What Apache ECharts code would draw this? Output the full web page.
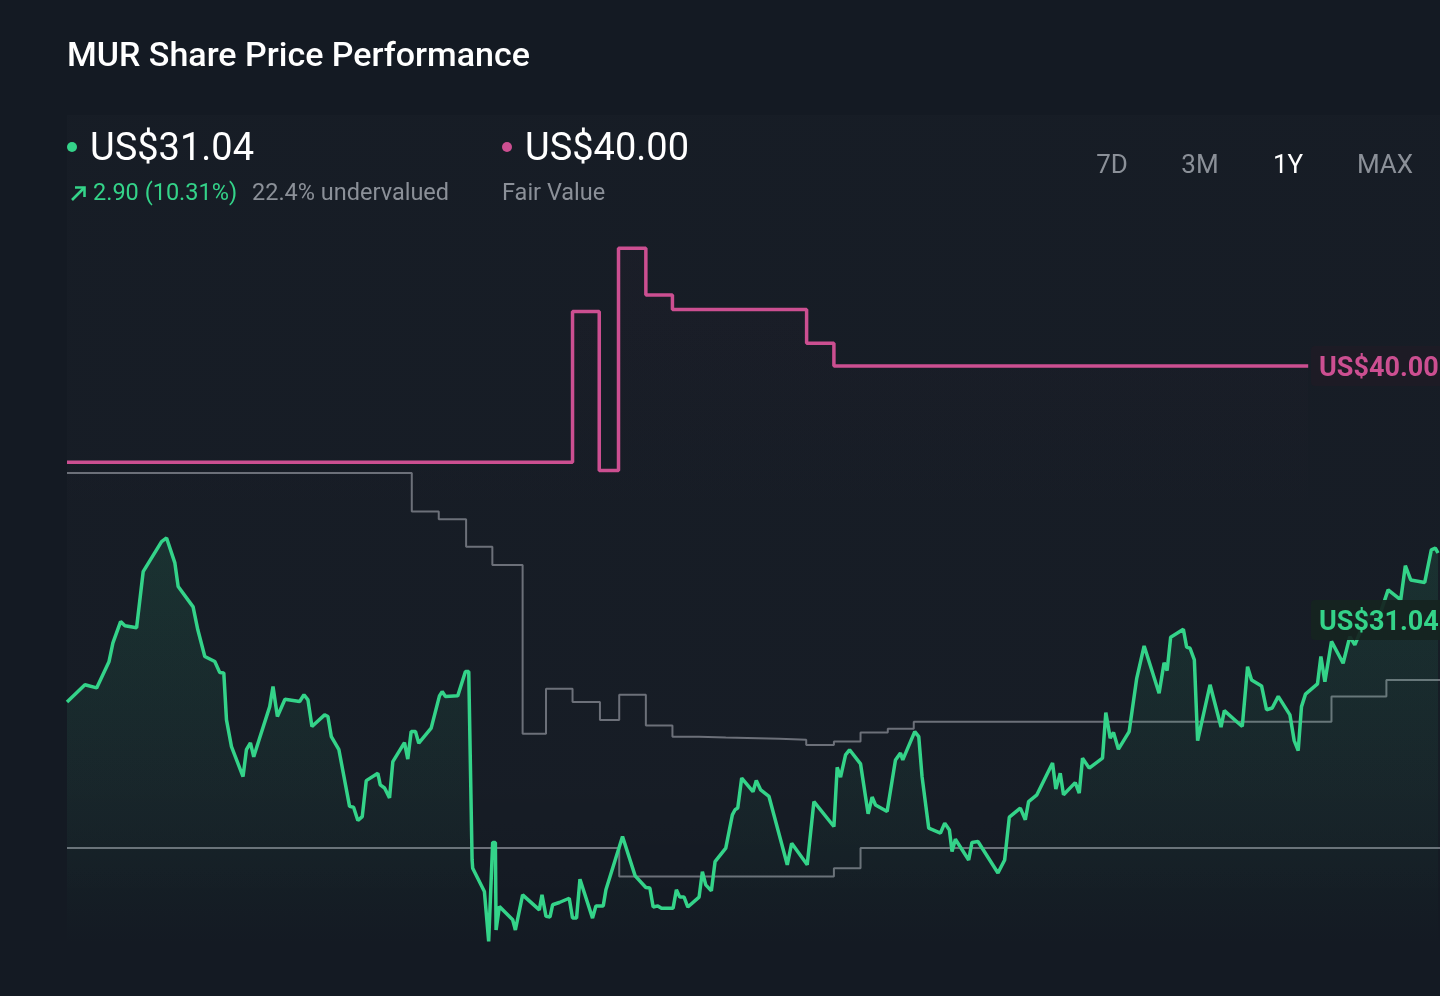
<!DOCTYPE html>
<html>
<head>
<meta charset="utf-8">
<title>MUR Share Price Performance</title>
<script src="https://cdn.jsdelivr.net/npm/echarts@6/dist/echarts.min.js"></script>
<style>
  html, body { margin: 0; padding: 0; background: #141a23; overflow: hidden; }
  #chart { width: 1440px; height: 996px; }
</style>
</head>
<body>
<div id="chart"></div>
<script>
// values, x = trading day (0..250), y = US$
var pricePoints = [
  [0, 28.14], [3.27, 28.75], [5.4, 28.64], [7.64, 29.56], [8.36, 30.23], [9.76, 30.98], [10.55, 30.83],
  [12.67, 30.76], [13.87, 32.74], [17.22, 33.80], [18.13, 33.93], [19.64, 33.05], [20.24, 32.22],
  [22.96, 31.50], [23.82, 30.69], [25.09, 29.75], [26.91, 29.57], [27.82, 29.18], [28.55, 29.17],
  [29.04, 27.51], [29.95, 26.57], [32.05, 25.51], [32.67, 26.46], [33.4, 26.70], [34.0, 26.21],
  [35.09, 26.88], [36.91, 27.98], [37.51, 28.69], [38.31, 27.63], [39.69, 28.24], [42.36, 28.16],
  [43.15, 28.40], [43.87, 28.22], [44.6, 27.28], [46.91, 27.69], [47.51, 27.63], [48.13, 26.92],
  [49.51, 26.46], [51.45, 24.46], [52.18, 24.43], [52.96, 23.96], [53.76, 24.10], [54.49, 25.37],
  [56.6, 25.63], [57.04, 25.22], [57.82, 25.11], [58.73, 24.76], [59.33, 26.04], [61.45, 26.71],
  [62.05, 26.13], [62.67, 27.10], [63.45, 27.10], [64.05, 26.69], [66.31, 27.22], [67.82, 28.36],
  [68.31, 28.51], [68.91, 28.34], [71.15, 28.36], [72.55, 29.22], [73.15, 29.22], [73.76, 22.57],
  [73.87, 22.28], [76.0, 21.46], [76.78, 19.70], [77.51, 23.19], [78.0, 23.19], [78.13, 20.10],
  [78.73, 20.93], [81.15, 20.46], [81.64, 20.10], [82.96, 21.34], [86.0, 20.81], [86.49, 21.34],
  [87.22, 20.58], [87.95, 20.56], [88.42, 20.99], [89.64, 21.07], [91.45, 21.22], [92.05, 20.52],
  [92.78, 20.52], [93.4, 21.89], [95.69, 20.52], [96.31, 20.95], [97.64, 20.95], [98.13, 21.52],
  [101.15, 23.40], [103.45, 22.01], [105.4, 21.60], [106.13, 21.58], [106.73, 20.91], [107.58, 20.95],
  [108.24, 20.87], [110.36, 20.87], [110.96, 21.52], [111.58, 21.26], [112.36, 21.26], [113.04, 20.91],
  [115.09, 21.26], [115.69, 22.16], [116.31, 21.69], [117.33, 21.48], [118.0, 22.51], [119.95, 22.99],
  [121.15, 24.16], [121.64, 24.34], [122.13, 24.40], [122.85, 25.46], [124.91, 24.98], [125.51, 25.37],
  [126.31, 25.04], [127.82, 24.81], [131.15, 22.40], [131.95, 23.16], [134.78, 22.40], [136.0, 24.63],
  [139.64, 23.75], [140.24, 25.84], [140.85, 25.49], [141.76, 26.28], [142.49, 26.46], [144.49, 25.96],
  [145.87, 24.20], [146.6, 24.79], [147.22, 24.51], [149.33, 24.28], [150.85, 26.10], [151.76, 26.34],
  [152.18, 26.10], [154.36, 27.10], [155.09, 26.92], [155.69, 25.51], [156.91, 23.69], [159.04, 23.52],
  [159.82, 23.87], [160.67, 23.63], [161.15, 22.87], [161.76, 23.30], [164.18, 22.57], [164.78, 23.19],
  [165.87, 23.22], [169.51, 22.11], [170.73, 22.57], [171.58, 24.08], [173.58, 24.40], [174.49, 23.99],
  [175.09, 24.63], [176.6, 24.87], [179.45, 25.99], [180.05, 25.07], [180.85, 25.63], [181.45, 24.87],
  [183.58, 25.30], [184.31, 24.93], [184.91, 26.16], [186.13, 25.81], [188.55, 26.16], [189.15, 27.77],
  [189.95, 26.87], [190.55, 27.07], [191.45, 26.48], [193.4, 27.10], [194.78, 28.98], [196.13, 30.12],
  [198.85, 28.45], [199.76, 29.53], [200.31, 29.25], [200.96, 30.43], [203.27, 30.71], [203.87, 30.08],
  [204.49, 30.04], [205.27, 29.63], [205.87, 26.78], [208.13, 28.75], [210.13, 27.26], [210.73, 27.84],
  [213.15, 27.42], [214.0, 27.28], [214.96, 29.39], [215.69, 28.92], [217.51, 28.71], [218.42, 27.87],
  [219.45, 27.93], [220.55, 28.34], [222.67, 27.69], [223.45, 26.78], [224.18, 26.43], [224.78, 27.98],
  [225.51, 28.42], [227.69, 28.78], [228.31, 29.75], [229.04, 28.86], [230.24, 30.28], [232.36, 29.51],
  [233.58, 30.45], [234.49, 30.16], [236.0, 30.86], [237.82, 31.32], [238.73, 31.04], [240.55, 32.10],
  [242.85, 31.75], [243.69, 32.95], [244.67, 32.45], [247.22, 32.36], [248.42, 33.51], [249.15, 33.57],
  [249.64, 33.40]
];

var fairValuePoints = [
  [0, 36.60], [92.05, 41.92], [96.91, 36.31], [100.42, 44.15], [105.4, 42.50],
  [110.24, 41.99], [134.67, 40.80], [139.64, 40.00], [226, 40.00]
];

var targetHighPoints = [
  [0, 36.22], [62.78, 34.86], [67.69, 34.59], [72.67, 33.62], [77.45, 32.98], [82.96, 27.02],
  [87.22, 28.61], [92.05, 28.14], [97.04, 27.51], [100.55, 28.40], [105.4, 27.31], [110.24, 26.92],
  [115.09, 26.89], [119.95, 26.85], [129.76, 26.81], [134.6, 26.63], [139.64, 26.75], [144.49, 27.07],
  [149.45, 27.20], [154.18, 27.45], [230.24, 28.34], [240.24, 28.92], [250, 28.92]
];

var targetLowPoints = [
  [0, 22.99], [100.55, 21.99], [139.64, 22.28], [144.49, 22.99], [250, 22.99]
];

var lastPrice = 31.04;
var fairValue = 40.00;
var rangeButtons = ['7D', '3M', '1Y', 'MAX'];

var green = '#34d389';
var pink = '#cc4f91';
var grey = '#6c7079';
var mutedText = '#8b9098';
var font = 'Roboto, "Noto Sans", sans-serif';

function header() {
  var items = [
    { type: 'rect', shape: { x: 67, y: 115, width: 1373, height: 795 }, z: -10,
      style: { fill: new echarts.graphic.LinearGradient(0, 0, 0, 1, [
        { offset: 0, color: 'rgba(255,255,255,0.012)' },
        { offset: 0.85, color: 'rgba(255,255,255,0.012)' },
        { offset: 1, color: 'rgba(255,255,255,0)' }]) } },
    { type: 'text', x: 67, y: 57, style: { text: 'MUR Share Price Performance', fill: '#ffffff',
      font: '500 34px ' + font, verticalAlign: 'middle' } },
    { type: 'circle', shape: { cx: 72, cy: 147, r: 5 }, style: { fill: green } },
    { type: 'text', x: 90, y: 150, style: { text: 'US$' + lastPrice.toFixed(2), fill: '#ffffff',
      font: '38px ' + font, verticalAlign: 'middle' } },
    { type: 'polyline', shape: { points: [[72, 200], [84, 188]] },
      style: { stroke: green, lineWidth: 2.6, fill: null } },
    { type: 'polyline', shape: { points: [[75, 187.5], [84.5, 187.5], [84.5, 197]] },
      style: { stroke: green, lineWidth: 2.6, fill: null } },
    { type: 'text', x: 93, y: 194, style: { text: '2.90 (10.31%)', fill: green,
      font: '23.5px ' + font, verticalAlign: 'middle' } },
    { type: 'text', x: 252, y: 194, style: { text: '22.4% undervalued', fill: mutedText,
      font: '23.5px ' + font, verticalAlign: 'middle' } },
    { type: 'circle', shape: { cx: 507, cy: 147, r: 5 }, style: { fill: pink } },
    { type: 'text', x: 525, y: 150, style: { text: 'US$' + fairValue.toFixed(2), fill: '#ffffff',
      font: '38px ' + font, verticalAlign: 'middle' } },
    { type: 'text', x: 502, y: 194, style: { text: 'Fair Value', fill: mutedText,
      font: '23.5px ' + font, verticalAlign: 'middle' } }
  ];
  var btnX = [1112, 1200, 1288, 1385];
  rangeButtons.forEach(function (b, i) {
    items.push({ type: 'text', x: btnX[i], y: 166, style: { text: b,
      fill: b === '1Y' ? '#ffffff' : mutedText, font: '26px ' + font,
      align: 'center', verticalAlign: 'middle' } });
  });
  return items;
}

var option = {
  backgroundColor: '#141a23',
  animation: false,
  grid: { left: 67, right: -2, top: 210, bottom: 49 },
  xAxis: { type: 'value', min: 0, max: 250, show: false },
  yAxis: { type: 'value', min: 19.5, max: 45.5, show: false, splitLine: { show: false } },
  graphic: header(),
  series: [
    {
      name: 'Fair Value', type: 'line', step: 'end', data: fairValuePoints,
      showSymbol: false, lineStyle: { color: pink, width: 3.5 },
      areaStyle: { color: new echarts.graphic.LinearGradient(0, 0, 0, 1, [
        { offset: 0, color: 'rgba(204,79,145,0.03)' },
        { offset: 0.4, color: 'rgba(204,79,145,0)' }]) },
      z: 2
    },
    {
      name: 'Target High', type: 'line', step: 'end', data: targetHighPoints,
      showSymbol: false, lineStyle: { color: grey, width: 2 }, z: 3
    },
    {
      name: 'Target Low', type: 'line', step: 'end', data: targetLowPoints,
      showSymbol: false, lineStyle: { color: grey, width: 2 }, z: 3
    },
    {
      name: 'Price', type: 'line', data: pricePoints,
      showSymbol: false, lineStyle: { color: green, width: 3.5 },
      areaStyle: { color: new echarts.graphic.LinearGradient(0, 0, 0, 1, [
        { offset: 0, color: 'rgba(52,211,137,0.17)' },
        { offset: 0.75, color: 'rgba(52,211,137,0.05)' },
        { offset: 1, color: 'rgba(52,211,137,0)' }]) },
      z: 4
    }
  ]
};

var myChart = echarts.init(document.getElementById('chart'));
myChart.setOption(option);

// value tags on the right edge, placed from the y scale
function valueTag(value, color, bg) {
  var y = myChart.convertToPixel({ yAxisIndex: 0 }, value);
  return {
    type: 'group', x: 1311, y: y, z: 100,
    children: [
      { type: 'rect', z: 100, shape: { x: 0, y: -20, width: 140, height: 40, r: 4 }, style: { fill: bg } },
      { type: 'text', z: 101, x: 8, y: 3, style: { text: 'US$' + value.toFixed(2), fill: color,
        font: 'bold 27px ' + font, verticalAlign: 'middle' } }
    ]
  };
}

myChart.setOption({
  graphic: header().concat([
    valueTag(fairValue, pink, 'rgba(30,27,37,0.95)'),
    valueTag(lastPrice, green, 'rgba(21,35,32,0.93)')
  ])
}, { replaceMerge: ['graphic'] });
</script>
</body>
</html>
